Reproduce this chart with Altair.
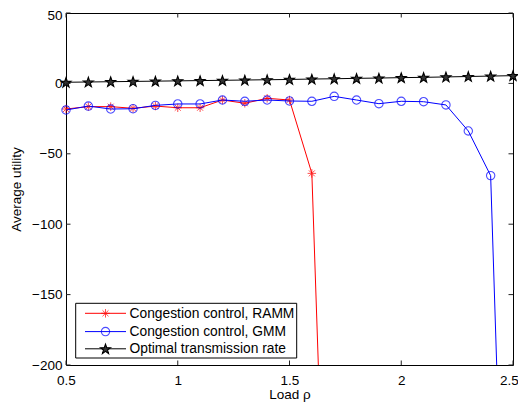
import math
import altair as alt
import pandas as pd

# ---------------- data ----------------
load = [0.5, 0.6, 0.7, 0.8, 0.9, 1.0, 1.1, 1.2, 1.3, 1.4, 1.5,
        1.6, 1.7, 1.8, 1.9, 2.0, 2.1, 2.2, 2.3, 2.4, 2.5]

ramm_x = [0.5, 0.6, 0.7, 0.8, 0.9, 1.0, 1.1, 1.2, 1.3, 1.4, 1.5, 1.6, 1.7]
ramm_y = [-18.2, -16.5, -16.5, -17.7, -16.1, -17.3, -17.3, -11.8, -14.1,
          -10.6, -11.8, -63.9, -533.0]

gmm_y = [-18.9, -16.1, -18.2, -18.0, -15.6, -14.6, -14.6, -11.8, -12.7,
         -11.8, -12.5, -12.7, -9.2, -11.8, -14.4, -12.7, -13.0, -15.3,
         -33.8, -65.5, -563.0]

opt_y = [0.8, 1.0, 1.2, 1.4, 1.6, 1.8, 2.0, 2.2, 2.4, 2.6, 2.8, 3.1,
         3.3, 3.6, 3.8, 4.1, 4.3, 4.6, 4.9, 5.2, 5.5]

series_names = ["Congestion control, RAMM", "Congestion control, GMM",
                "Optimal transmission rate"]
series_colors = ["#ff0000", "#0000ff", "#000000"]

x_ticks = [0.5, 1.0, 1.5, 2.0, 2.5]
y_ticks = [-200, -150, -100, -50, 0, 50]
x_domain = [0.5, 2.5]
y_domain = [-200, 50]

# ---------------- layout ----------------
W, H = 447, 352
FONT = "Liberation Sans"
FS = 13.5
LFS = 13.8
TICK = 4.5

asterisk = "M-1,0L1,0M0,-1L0,1M-0.7,-0.7L0.7,0.7M-0.7,0.7L0.7,-0.7"
pts = []
for k in range(10):
    r = 1.0 if k % 2 == 0 else 0.40
    a = -math.pi / 2 + k * math.pi / 5
    pts.append(f"{r*math.cos(a):.3f},{r*math.sin(a)+0.1:.3f}")
pentagram = "M" + "L".join(pts) + "Z"

xs = alt.Scale(domain=x_domain, nice=False, zero=False)
ys = alt.Scale(domain=y_domain, nice=False, zero=False)

common_axis = dict(domain=False, ticks=False, grid=False, labelFont=FONT,
                   labelFontSize=FS, labelColor="black", labelFlush=False,
                   labelOverlap=False, labelBound=False, titleFont=FONT,
                   titleFontSize=FS, titleFontWeight="normal",
                   titleColor="black")
xaxis = alt.Axis(values=x_ticks, format=".1~f", labelPadding=8,
                 labelOffset={"condition": {"test": "datum.value >= 2.5",
                                            "value": -4}, "value": 0},
                 title="Load ρ", titlePadding=1, **common_axis)
yaxis = alt.Axis(values=y_ticks, format="d", labelPadding=4,
                 labelOffset={"condition": {"test": "datum.value >= 50",
                                            "value": 2}, "value": 0},
                 title="Average utility", titlePadding=8, **common_axis)


def X(field):
    return alt.X(field, scale=xs, axis=xaxis)


def Y(field):
    return alt.Y(field, scale=ys, axis=yaxis)


datasets = [
    pd.DataFrame({"x": ramm_x, "y": ramm_y}),
    pd.DataFrame({"x": load, "y": gmm_y}),
    pd.DataFrame({"x": load, "y": opt_y}),
]
marker_specs = [
    dict(shape=asterisk, filled=False, size=72, strokeWidth=1),
    dict(shape="circle", filled=False, size=70, strokeWidth=1.1),
    dict(shape=pentagram, filled=True, size=110, strokeWidth=1.1,
         stroke="#000000", fill="#333333", fillOpacity=1),
]

layers = []
for i, df in enumerate(datasets):
    col = series_colors[i]
    base = alt.Chart(df)
    line = base.mark_line(color=col, strokeWidth=1, clip=True).encode(
        x=X("x:Q"), y=Y("y:Q"))
    ms = dict(marker_specs[i])
    if "stroke" not in ms:
        ms["color"] = col
    pts_layer = base.mark_point(**ms).encode(
        x=X("x:Q"), y=Y("y:Q")
    ).transform_filter(alt.datum.y >= y_domain[0])
    layers += [line, pts_layer]

# inward ticks on all four sides
xt = alt.Chart(pd.DataFrame({"v": x_ticks}))
yt = alt.Chart(pd.DataFrame({"v": y_ticks}))
tick_style = dict(color="#222222", strokeWidth=1)
layers += [
    xt.mark_rule(**tick_style).encode(x=X("v:Q"),
                                      y=alt.value(H), y2=alt.value(H - TICK)),
    xt.mark_rule(**tick_style).encode(x=X("v:Q"),
                                      y=alt.value(0), y2=alt.value(TICK)),
    yt.mark_rule(**tick_style).encode(y=Y("v:Q"),
                                      x=alt.value(0), x2=alt.value(TICK)),
    yt.mark_rule(**tick_style).encode(y=Y("v:Q"),
                                      x=alt.value(W), x2=alt.value(W - TICK)),
]

# legend box
lx0, lx1, ly0, ly1 = 9.7, 230.7, 290.3, 345.0
row_y = [300.3, 318.6, 335.8]
dummy = alt.Chart(pd.DataFrame({"a": [0]}))
layers.append(dummy.mark_rect(fill="white", stroke="black", strokeWidth=1).encode(
    x=alt.value(lx0), x2=alt.value(lx1), y=alt.value(ly0), y2=alt.value(ly1)))
for i, name in enumerate(series_names):
    col = series_colors[i]
    d = alt.Chart(pd.DataFrame({"label": [name]}))
    layers.append(d.mark_rule(color=col, strokeWidth=1).encode(
        x=alt.value(19), x2=alt.value(60), y=alt.value(row_y[i])))
    ms = dict(marker_specs[i])
    if "stroke" not in ms:
        ms["color"] = col
    layers.append(d.mark_point(**ms).encode(
        x=alt.value(39.5), y=alt.value(row_y[i])))
    layers.append(d.mark_text(align="left", baseline="middle", font=FONT,
                              fontSize=LFS, color="black").encode(
        x=alt.value(63.5), y=alt.value(row_y[i] + 0.5), text="label:N"))

chart = alt.layer(*layers).properties(
    width=W, height=H,
    autosize=alt.AutoSizeParams(type="none"),
    padding={"left": 58, "top": 5, "right": 5, "bottom": 38},
    background="white",
).configure_view(stroke="black", strokeWidth=1)

chart.save("out.html", embed_options={"renderer": "svg", "actions": False})
